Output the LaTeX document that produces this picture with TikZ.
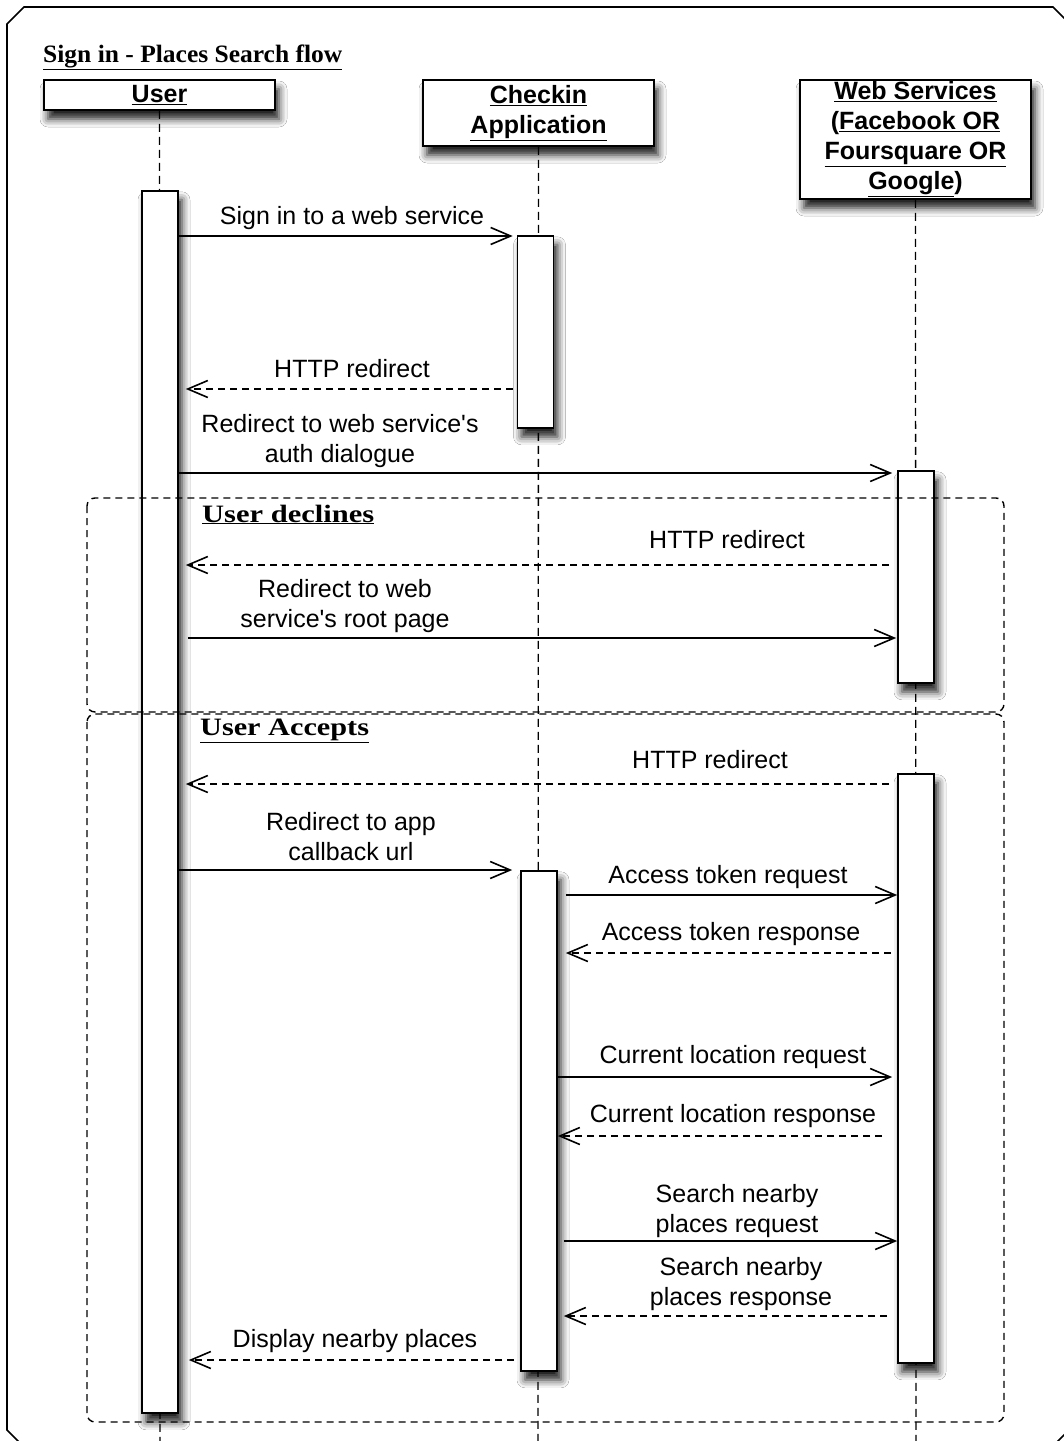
\documentclass[tikz,border=0pt]{standalone}
\usepackage{fontspec}
\usepackage{graphicx}
\setmainfont{Liberation Sans}
\newfontfamily\fragfont{Liberation Serif}
\usetikzlibrary{arrows.meta,shadows.blur}

\tikzset{
  softshadow/.style={blur shadow={shadow xshift=4pt, shadow yshift=-9pt,
      shadow blur radius=8pt, shadow opacity=90}},
  headbox/.style={draw, line width=1.6pt, fill=white, minimum width=231pt,
      align=center, inner sep=0pt, font=\bfseries\fontsize{25}{30}\selectfont,
      softshadow},
  actbox/.style={draw, line width=1.6pt, fill=white, minimum width=36pt,
      inner sep=0pt, anchor=north, softshadow},
  lifeline/.style={line width=1.3pt, dash pattern=on 8pt off 5pt},
  fragment/.style={line width=1.4pt, dash pattern=on 7pt off 5pt, rounded corners=8pt},
  call/.style={line width=1.6pt, -{Straight Barb[length=20pt,width=17pt,line width=1.6pt]}},
  reply/.style={call, dash pattern=on 7pt off 5pt},
  msglabel/.style={font=\fontsize{25}{30}\selectfont, align=center, inner sep=0pt, anchor=base},
  fraglabel/.style={font=\fragfont\bfseries\fontsize{25}{30}\selectfont, inner sep=0pt, anchor=base west}
}

\begin{document}
\begin{tikzpicture}[x=1pt,y=-1pt]
\useasboundingbox (0,0) rectangle (1064,1441);
\fill[white] (0,0) rectangle (1064,1441);
\clip (0,0) rectangle (1064,1441);

% outer diagram frame with cut corners
\draw[line width=1.6pt] (7,24) -- (24,7) -- (1053,7) -- (1075,29) -- (1075,1424)
  -- (1051,1448) -- (25,1448) -- (7,1430) -- cycle;

% title
\node[fraglabel] (title) at (43,62) {\scalebox{1.02}[1]{\underline{Sign in - Places Search flow}}};

% lifeline heads
\node[headbox, minimum height=30pt] (uH) at (159.5,95) {\underline{User}};
\node[headbox, minimum height=66pt] (cH) at (538.5,113) {\underline{Checkin}\\\underline{Application}};
\node[headbox, minimum height=119pt] (wH) at (915.5,139.5)
  {\underline{Web Services}\\(\underline{Facebook OR}\\\underline{Foursquare OR}\\\underline{Google})};

% lifeline ends
\coordinate (uEnd) at (160,1441);
\coordinate (cEnd) at (538,1441);
\coordinate (wEnd) at (916,1441);

% dashed lifelines
\draw[lifeline] (uH.south) -- (uEnd);
\draw[lifeline] (cH.south) -- (cEnd);
\draw[lifeline] (wH.south) -- (wEnd);

% activation bars
\node[actbox, minimum height=1222pt] (uA) at (160,190) {};
\node[actbox, minimum height=192pt] (cA1) at (535.5,235) {};
\node[actbox, minimum height=500pt] (cA2) at (539,870) {};
\node[actbox, minimum height=212pt] (wA1) at (916,470) {};
\node[actbox, minimum height=589pt] (wA2) at (916,773) {};

% combined fragments
\draw[fragment] (87,498) rectangle (1004,712);
\draw[fragment] (87,714) rectangle (1004,1422);
\node[fraglabel] (declines) at (202,522) {\scalebox{1.22}[1]{\underline{User declines}}};
\node[fraglabel] (accepts) at (200,735) {\scalebox{1.21}[1]{\underline{User Accepts}}};

% messages (a label's base is the baseline of its last line)
\draw[call, shorten >=4pt] (uA.east |- 0,236) -- (cA1.west |- 0,236);
\node[msglabel] (m1) at (352,224) {Sign in to a web service};

\draw[reply, shorten <=4pt, shorten >=7pt] (cA1.west |- 0,389) -- (uA.east |- 0,389);
\node[msglabel] (m2) at (352,377) {HTTP redirect};

\draw[call, shorten >=5pt] (uA.east |- 0,473) -- (wA1.west |- 0,473);
\node[msglabel] (m3) at (340,462) {Redirect to web service\textquotesingle s\\auth dialogue};

\draw[reply, shorten <=8pt, shorten >=7pt] (wA1.west |- 0,565) -- (uA.east |- 0,565);
\node[msglabel] (m4) at (727,548) {HTTP redirect};

\draw[call, shorten <=9pt, shorten >=1pt] (uA.east |- 0,638) -- (wA1.west |- 0,638);
\node[msglabel] (m5) at (345,627) {Redirect to web\\service\textquotesingle s root page};

\draw[reply, shorten <=8pt, shorten >=7pt] (wA2.west |- 0,784) -- (uA.east |- 0,784);
\node[msglabel] (m6) at (710,768) {HTTP redirect};

\draw[call, shorten >=8pt] (uA.east |- 0,870) -- (cA2.west |- 0,870);
\node[msglabel] (m7) at (351,860) {Redirect to app\\callback url};

\draw[call, shorten <=8pt] (cA2.east |- 0,895) -- (wA2.west |- 0,895);
\node[msglabel] (m8) at (728,883) {Access token request};

\draw[reply, shorten <=6pt, shorten >=8pt] (wA2.west |- 0,953) -- (cA2.east |- 0,953);
\node[msglabel] (m9) at (731,940) {Access token response};

\draw[call, shorten >=5pt] (cA2.east |- 0,1077) -- (wA2.west |- 0,1077);
\node[msglabel] (m10) at (733,1063) {Current location request};

\draw[reply, shorten <=15pt] (wA2.west |- 0,1136) -- (cA2.east |- 0,1136);
\node[msglabel] (m11) at (733,1122) {Current location response};

\draw[call, shorten <=6pt] (cA2.east |- 0,1241) -- (wA2.west |- 0,1241);
\node[msglabel] (m12) at (737,1232) {Search nearby\\places request};

\draw[reply, shorten <=10pt, shorten >=6pt] (wA2.west |- 0,1316) -- (cA2.east |- 0,1316);
\node[msglabel] (m13) at (741,1305) {Search nearby\\places response};

\draw[reply, shorten <=6pt, shorten >=10pt] (cA2.west |- 0,1360) -- (uA.east |- 0,1360);
\node[msglabel] (m14) at (355,1347) {Display nearby places};
\end{tikzpicture}
\end{document}
